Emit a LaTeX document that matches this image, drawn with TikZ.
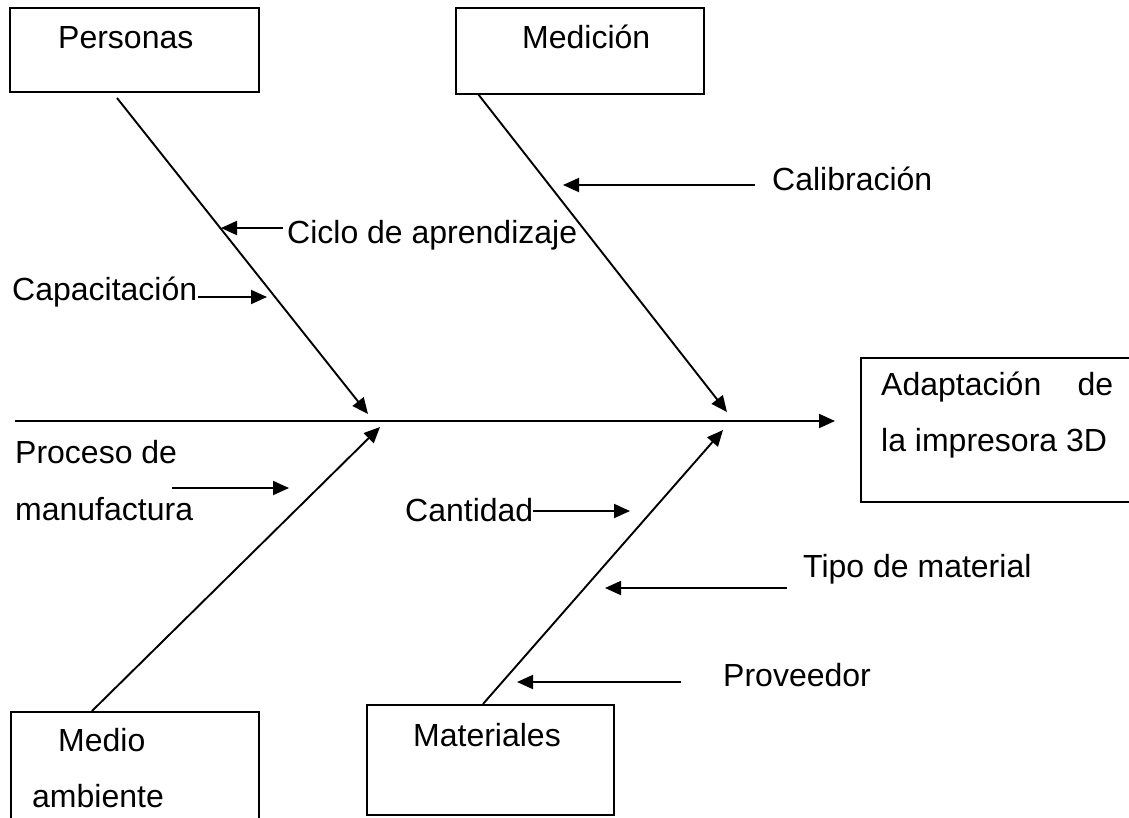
\documentclass[tikz,border=0pt]{standalone}
\usepackage{fontspec}
\setmainfont{Liberation Sans}
\usetikzlibrary{arrows.meta}
\begin{document}
\begin{tikzpicture}[x=1pt,y=-1pt,
  lbl/.style={anchor=base west, inner sep=0pt, font=\fontsize{32pt}{38pt}\selectfont},
  box/.style={draw, line width=1.9pt, anchor=north west, inner sep=0pt},
  cause/.style={line width=1.9pt, -{Triangle[length=16pt,width=14pt]}}]
\useasboundingbox (0,0) rectangle (1129,817);
\clip (0,0) rectangle (1129,817);

% category boxes
\node[box, minimum width=249pt, minimum height=84pt]  (personas)   at (9,7) {};
\node[box, minimum width=248pt, minimum height=86pt]  (medicion)   at (455,7) {};
\node[box, minimum width=248pt, minimum height=130pt] (medio)      at (10,711) {};
\node[box, minimum width=247pt, minimum height=110pt] (materiales) at (366,704) {};
\node[box, minimum width=275pt, minimum height=144pt] (efecto)     at (860,357) {};

% box texts
\node[lbl] (tPersonas)   at (58,48)  {Personas};
\node[lbl] (tMedicion)   at (522,48) {Medición};
\node[lbl] (tMedio)      at (58,751) {Medio};
\node[lbl] (tAmbiente)   at (32,807) {ambiente};
\node[lbl] (tMateriales) at (413,746) {Materiales};
\node[lbl] (tEfecto1)    at (881,395) {\makebox[232pt][s]{Adaptación de}};
\node[lbl] (tEfecto2)    at (881,451) {la impresora 3D};

% spine
\coordinate (spineL) at (15,421);
\coordinate (spineR) at (835,421);
\draw[cause] (spineL) -- (spineR);

% main bones
\coordinate (bPersonas)   at (117,98);
\coordinate (hPersonas)   at (368,414);
\coordinate (bMedicion)   at (478,94);
\coordinate (hMedicion)   at (727,412);
\coordinate (bMedio)      at (92,711);
\coordinate (hMedio)      at (380,427);
\coordinate (bMateriales) at (483,704);
\coordinate (hMateriales) at (723,430);
\draw[cause] (bPersonas)   -- (hPersonas);
\draw[cause] (bMedicion)   -- (hMedicion);
\draw[cause] (bMedio)      -- (hMedio);
\draw[cause] (bMateriales) -- (hMateriales);

% cause labels
\node[lbl] (tCalibracion) at (772,190) {Calibración};
\node[lbl] (tCiclo)       at (287,243) {Ciclo de aprendizaje};
\node[lbl] (tCapacit)     at (12,300)  {Capacitación};
\node[lbl] (tProceso1)    at (15,463)  {Proceso de};
\node[lbl] (tProceso2)    at (15,520)  {manufactura};
\node[lbl] (tCantidad)    at (405,521) {Cantidad};
\node[lbl] (tTipo)        at (803,577) {Tipo de material};
\node[lbl] (tProveedor)   at (723,686) {Proveedor};

% cause arrows
\coordinate (sCalibracion) at (755,185); \coordinate (eCalibracion) at (563,185);
\coordinate (sCiclo)       at (283,228); \coordinate (eCiclo)       at (221,228);
\coordinate (sCapacit)     at (198,297); \coordinate (eCapacit)     at (267,297);
\coordinate (sProceso)     at (172,488); \coordinate (eProceso)     at (289,488);
\coordinate (sCantidad)    at (533,511); \coordinate (eCantidad)    at (630,511);
\coordinate (sTipo)        at (787,588); \coordinate (eTipo)        at (605,588);
\coordinate (sProveedor)   at (681,682); \coordinate (eProveedor)   at (517,682);
\draw[cause] (sCalibracion) -- (eCalibracion);
\draw[cause] (sCiclo)       -- (eCiclo);
\draw[cause] (sCapacit)     -- (eCapacit);
\draw[cause] (sProceso)     -- (eProceso);
\draw[cause] (sCantidad)    -- (eCantidad);
\draw[cause] (sTipo)        -- (eTipo);
\draw[cause] (sProveedor)   -- (eProveedor);
\end{tikzpicture}
\end{document}
